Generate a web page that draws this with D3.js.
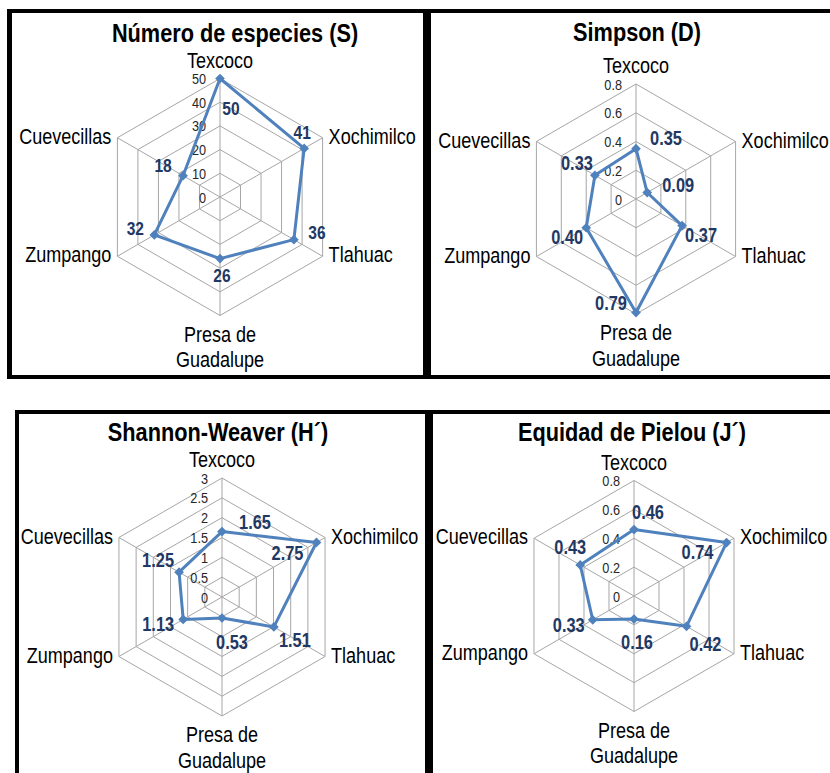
<!DOCTYPE html>
<html>
<head>
<meta charset="utf-8">
<script src="https://cdn.jsdelivr.net/npm/d3@7"></script>
<style>
  body { margin: 0; background: #fff; }
  svg { display: block; }
  text { font-family: "Liberation Sans", Arial, sans-serif; }
</style>
</head>
<body>
<div id="chart"></div>
<script>
'use strict'

// sites (axes of every radar)
const sites = ['Texcoco', 'Xochimilco', 'Tlahuac', 'Presa de Guadalupe', 'Zumpango', 'Cuevecillas']

// index values per site
const riqueza = [50, 41, 36, 26, 32, 18]
const simpson = [0.35, 0.09, 0.37, 0.79, 0.40, 0.33]
const shannon = [1.65, 2.75, 1.51, 0.53, 1.13, 1.25]
const pielou = [0.46, 0.74, 0.42, 0.16, 0.33, 0.43]

// axis ticks
const ticksS = [0, 10, 20, 30, 40, 50]
const ticksD = [0, 0.2, 0.4, 0.6, 0.8]
const ticksH = [0, 0.5, 1, 1.5, 2, 2.5, 3]
const ticksJ = [0, 0.2, 0.4, 0.6, 0.8]

// titles
const titles = ['Número de especies (S)', 'Simpson (D)', 'Shannon-Weaver  (H´)', 'Equidad de Pielou (J´)']

////////////////////////////////////
//////////// layout ////////////////
////////////////////////////////////
const W = 830, H = 773
const lineColor = '#4F81BD'
const labelColor = '#1F3864'
const gridColor = '#a6a6a6'
const narrow = 0.82   // no narrow font installed, squeeze the regular one

const panels = [
    { values: riqueza, ticks: ticksS, title: titles[0], fmt: d3.format('d'),
      cx: 220, cy: 197, R: 118.5, titleX: 235, titleY: 33, valSize: 19,
      off: [[11, 30], [-2, -16], [23, -8], [2, 17], [-19, -7], [-20, -11]] },
    { values: simpson, ticks: ticksD, title: titles[1], fmt: d3.format('.2f'),
      cx: 636, cy: 199, R: 115, titleX: 637, titleY: 32, valSize: 20,
      off: [[30, -11], [31, -8], [19, 9], [-25, -10], [-19, 9], [-18, -12]] },
    { values: shannon, ticks: ticksH, title: titles[2], fmt: d3.format('.2f'),
      cx: 222, cy: 597, R: 119, titleX: 218, titleY: 432, valSize: 20,
      off: [[33, -10], [-29, 10], [21, 13], [10, 24], [-25, 4], [-21, -12]] },
    { values: pielou, ticks: ticksJ, title: titles[3], fmt: d3.format('.2f'),
      cx: 634, cy: 596, R: 115.5, titleX: 632, titleY: 432, valSize: 20,
      off: [[14, -18], [-29, 9], [19, 17], [3, 23], [-24, 5], [-10, -18]] }
]

const svg = d3.select('#chart')
    .append('svg')
    .attr('width', W)
    .attr('height', H)

// black panel frames: x, y, w, h
const frames = [
    [7, 9, 823, 4], [7, 375, 823, 4], [7, 9, 5, 370], [423, 9, 8, 370],
    [15, 410, 815, 4], [15, 410, 4, 363], [425, 410, 8, 363]
]
svg.selectAll('.frame')
    .data(frames)
    .join('rect')
    .attr('class', 'frame')
    .attr('x', d => d[0]).attr('y', d => d[1])
    .attr('width', d => d[2]).attr('height', d => d[3])
    .attr('fill', '#000')

const angle = d3.scalePoint().domain(d3.range(sites.length)).range([0, 2 * Math.PI * (sites.length - 1) / sites.length])

function polar(a, r) {
    return [Math.sin(a) * r, -Math.cos(a) * r]
}

// put a text at x,y and squeeze it horizontally
function place(x, y) {
    return `translate(${x},${y}) scale(${narrow},1)`
}

panels.forEach(p => {
    const g = svg.append('g').attr('transform', `translate(${p.cx},${p.cy})`)
    const r = d3.scaleLinear().domain([0, d3.max(p.ticks)]).range([0, p.R])

    // rings
    const ring = d3.lineRadial().angle((d, i) => angle(i)).radius(d => d).curve(d3.curveLinearClosed)
    g.selectAll('.ring')
        .data(p.ticks.slice(1))
        .join('path')
        .attr('d', t => ring(sites.map(() => r(t))))
        .attr('fill', 'none')
        .attr('stroke', gridColor)
        .attr('stroke-width', 1)

    // spokes
    g.selectAll('.spoke')
        .data(sites)
        .join('line')
        .attr('x1', 0).attr('y1', 0)
        .attr('x2', (d, i) => polar(angle(i), p.R)[0])
        .attr('y2', (d, i) => polar(angle(i), p.R)[1])
        .attr('stroke', gridColor)
        .attr('stroke-width', 1)

    // tick labels
    g.selectAll('.tick')
        .data(p.ticks)
        .join('text')
        .attr('transform', t => place(-14, -r(t) + 5.5))
        .attr('text-anchor', 'end')
        .attr('font-size', 15.5)
        .attr('fill', '#262626')
        .text(t => t)

    // site labels
    g.selectAll('.site')
        .data(sites)
        .join('text')
        .attr('font-size', 22)
        .attr('fill', '#000')
        .each(function (d, i) {
            const [x, y] = polar(angle(i), p.R)
            const t = d3.select(this)
            if (i === 0) {
                t.attr('transform', place(x, y - 11)).attr('text-anchor', 'middle').text(d)
            } else if (i === 3) {
                const words = d.split(' ')
                t.attr('transform', place(x, y + 26)).attr('text-anchor', 'middle')
                t.append('tspan').attr('x', 0).attr('y', 0).text(words.slice(0, 2).join(' '))
                t.append('tspan').attr('x', 0).attr('y', 26).text(words.slice(2).join(' '))
            } else {
                t.attr('transform', place(x + (x > 0 ? 6 : -6), y + 6))
                 .attr('text-anchor', x > 0 ? 'start' : 'end').text(d)
            }
        })

    // series line
    const line = d3.lineRadial()
        .angle((d, i) => angle(i))
        .radius(d => r(d))
        .curve(d3.curveLinearClosed)

    g.append('path')
        .attr('d', line(p.values))
        .attr('fill', 'none')
        .attr('stroke', lineColor)
        .attr('stroke-width', 3)
        .attr('stroke-linejoin', 'round')

    // diamond markers
    g.selectAll('.marker')
        .data(p.values)
        .join('path')
        .attr('transform', (d, i) => {
            const [x, y] = polar(angle(i), r(d))
            return `translate(${x},${y})`
        })
        .attr('d', d3.symbol(d3.symbolDiamond2, 60))
        .attr('fill', lineColor)

    // value labels
    g.selectAll('.value')
        .data(p.values)
        .join('text')
        .attr('transform', (d, i) => {
            const [x, y] = polar(angle(i), r(d))
            return place(x + p.off[i][0], y + p.off[i][1] + p.valSize * 0.36)
        })
        .attr('text-anchor', 'middle')
        .attr('font-size', p.valSize)
        .attr('font-weight', 'bold')
        .attr('fill', labelColor)
        .text(d => p.fmt(d))

    // title
    svg.append('text')
        .attr('transform', place(p.titleX, p.titleY + 9))
        .attr('text-anchor', 'middle')
        .attr('font-size', 26.5)
        .attr('font-weight', 'bold')
        .attr('fill', '#000')
        .text(p.title)
})
</script>
</body>
</html>
